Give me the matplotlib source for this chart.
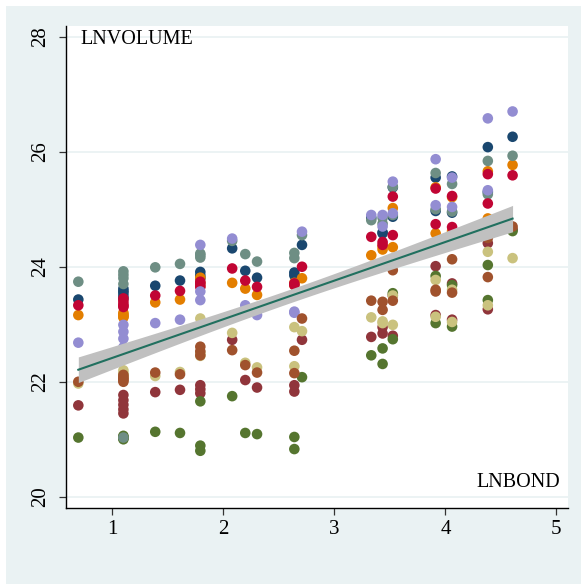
import numpy as np
import matplotlib
matplotlib.use("Agg")
import matplotlib.pyplot as plt
from matplotlib.patches import Rectangle
from matplotlib.transforms import blended_transform_factory

# ---- data -----------------------------------------------------------------
# LNBOND value of each period (ln of number of bonds)
period_x = [0.693,
            1.099, 1.099, 1.099, 1.099, 1.099,
            1.386, 1.609,
            1.792, 1.792, 1.792,
            2.079, 2.197, 2.303,
            2.639, 2.639, 2.708,
            3.332, 3.434, 3.434, 3.526, 3.526,
            3.912, 3.912, 4.060, 4.060, 4.382, 4.382, 4.605]

# LNVOLUME per group, one value per period (same order as period_x)
navy = [23.43, 23.62, 23.58, 23.55, 23.50, 23.45, 23.67, 23.76, 23.91, 23.85, 23.80,
        24.32, 23.93, 23.81, 23.90, 23.85, 24.38, 24.85, 24.58, 24.60, 25.38, 24.87,
        25.55, 24.97, 25.57, 24.94, 26.08, 25.30, 26.26]
maroon = [21.59, 21.77, 21.68, 21.60, 21.52, 21.45, 21.82, 21.86, 21.94, 21.87, 21.80,
          22.73, 22.03, 21.90, 21.94, 21.83, 22.73, 22.78, 22.84, 22.95, 23.50, 22.80,
          24.01, 23.16, 23.71, 23.08, 24.41, 23.26, 24.65]
green = [21.03, 21.06, 21.04, 21.03, 21.02, 21.00, 21.13, 21.11, 21.66, 20.89, 20.80,
         21.75, 21.11, 21.09, 21.04, 20.83, 22.08, 22.46, 22.58, 22.31, 23.54, 22.74,
         23.84, 23.02, 23.68, 22.96, 24.03, 23.42, 24.62]
orange = [23.16, 23.20, 23.17, 23.15, 23.13, 23.12, 23.38, 23.43, 23.81, 23.72, 23.66,
          23.72, 23.62, 23.51, 23.72, 23.68, 23.80, 24.20, 24.35, 24.30, 25.02, 24.34,
          25.38, 24.58, 25.21, 24.62, 25.66, 24.84, 25.77]
teal = [23.74, 23.92, 23.86, 23.80, 23.70, 21.03, 23.99, 24.05, 24.23, 24.20, 24.16,
        24.45, 24.22, 24.09, 24.24, 24.15, 24.55, 24.81, 24.85, 24.75, 25.39, 24.90,
        25.63, 25.00, 25.44, 24.96, 25.84, 25.26, 25.93]
red = [23.33, 23.45, 23.40, 23.35, 23.32, 23.30, 23.50, 23.58, 23.74, 23.70, 23.65,
       23.97, 23.76, 23.65, 23.71, 23.68, 24.00, 24.52, 24.43, 24.38, 25.22, 24.55,
       25.36, 24.74, 25.23, 24.69, 25.61, 25.10, 25.59]
lavender = [22.68, 22.99, 22.87, 22.75, 22.60, 22.42, 23.02, 23.08, 24.38, 23.57, 23.42,
            24.49, 23.33, 23.16, 23.22, 23.20, 24.61, 24.90, 24.90, 24.70, 25.48, 24.93,
            25.87, 25.07, 25.55, 25.04, 26.58, 25.33, 26.70]
khaki = [21.97, 22.20, 22.15, 22.12, 22.10, 22.08, 22.10, 22.17, 23.10, 22.50, 22.45,
         22.85, 22.33, 22.25, 22.95, 22.27, 22.88, 23.12, 23.02, 23.05, 23.50, 22.99,
         23.77, 23.13, 23.60, 23.04, 24.26, 23.33, 24.15]
sienna = [22.00, 22.12, 22.08, 22.05, 22.03, 22.00, 22.16, 22.13, 22.61, 22.53, 22.46,
          22.55, 22.29, 22.16, 22.54, 22.15, 23.10, 23.41, 23.39, 23.25, 23.94, 23.41,
          23.57, 23.60, 24.13, 23.55, 23.82, 24.50, 24.70]

series = [navy, maroon, green, orange, teal, red, lavender, khaki, sienna]
colors = ["#1a476f", "#90353b", "#55752f", "#e37e00", "#6e8e84",
          "#c10534", "#938dd2", "#cac27e", "#a0522d"]

x_ticks = [1, 2, 3, 4, 5]
y_ticks = [20, 22, 24, 26, 28]
x_title = "LNBOND"
y_title = "LNVOLUME"

# ---- figure ---------------------------------------------------------------
W, H = 581, 584
fig = plt.figure(figsize=(W / 100, H / 100), dpi=100)
fig.patch.set_facecolor("white")
fig.add_artist(Rectangle((6 / W, 0), 1, (H - 6) / H, transform=fig.transFigure,
                         facecolor="#eaf2f3", edgecolor="none", zorder=-10))

L, R, T, B = 66, 568.3, 26, 508.3
ax = fig.add_axes([L / W, (H - B) / H, (R - L) / W, (B - T) / H])
ax.set_facecolor("white")

serif = ["Liberation Serif", "DejaVu Serif"]

for ys, c in zip(series, colors):
    ax.scatter(period_x, ys, s=58, color=c, edgecolors="none", zorder=2)

# linear fit with 95% CI of the mean prediction
X = np.concatenate([np.asarray(period_x)] * len(series))
Y = np.concatenate([np.asarray(s) for s in series])
n = len(X)
b1, b0 = np.polyfit(X, Y, 1)
resid = Y - (b0 + b1 * X)
s = np.sqrt(np.sum(resid ** 2) / (n - 2))
xbar = X.mean()
sxx = np.sum((X - xbar) ** 2)
xg = np.linspace(X.min(), X.max(), 200)
yg = b0 + b1 * xg
se = s * np.sqrt(1 / n + (xg - xbar) ** 2 / sxx)
tcrit = 1.969
ax.fill_between(xg, yg - tcrit * se, yg + tcrit * se, color="#c0c0c0",
                linewidth=0, zorder=3)
ax.plot(xg, yg, color="#21705f", lw=1.5, zorder=4)

ax.set_xlim(0.582, 5.107)
ax.set_ylim(19.8, 28.186)
ax.set_xticks(x_ticks)
ax.set_yticks(y_ticks)
ax.set_yticklabels([])
ax.yaxis.grid(True, color="#eaf2f3", lw=1.3, zorder=0)
ax.set_axisbelow(True)
for side in ("top", "right"):
    ax.spines[side].set_visible(False)
for side in ("left", "bottom"):
    ax.spines[side].set_color("black")
    ax.spines[side].set_linewidth(1.0)

ax.tick_params(axis="x", length=5, width=0.9, color="#333333", pad=3.5,
               labelsize=15)
ax.tick_params(axis="y", length=5, width=0.9, color="#333333")
for lab in ax.get_xticklabels():
    lab.set_family(serif)

# rotated y tick labels (Stata style)
ytr = blended_transform_factory(fig.transFigure, ax.transData)
for v in y_ticks:
    ax.text(41 / W, v, str(v), transform=ytr, rotation=90, ha="center",
            va="center", family=serif, fontsize=15, clip_on=False)

fig.text(80 / W, 1 - 44 / H, y_title, family=serif, fontsize=14.5,
         ha="left", va="baseline")
fig.text(560 / W, 1 - 487.3 / H, x_title, family=serif, fontsize=14.5,
         ha="right", va="baseline")

fig.savefig("out.png", dpi=100)
